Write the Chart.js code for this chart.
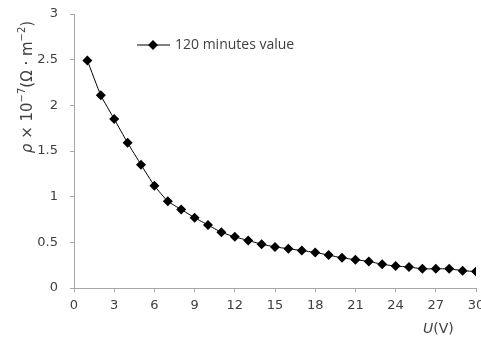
<!DOCTYPE html>
<html>
<head>
<meta charset="utf-8">
<script src="https://cdn.jsdelivr.net/npm/chart.js@4"></script>
<style>
  html, body { margin: 0; padding: 0; background: #fff; }
  #wrap { width: 481px; height: 338px; }
</style>
</head>
<body>
<div id="wrap"><canvas id="chart" width="481" height="338"></canvas></div>
<script>
// values
const voltages = [1, 2, 3, 4, 5, 6, 7, 8, 9, 10, 11, 12, 13, 14, 15,
                  16, 17, 18, 19, 20, 21, 22, 23, 24, 25, 26, 27, 28, 29, 30];
const rho120 = [2.49, 2.11, 1.85, 1.59, 1.35, 1.12, 0.95, 0.86, 0.77, 0.69,
                0.61, 0.56, 0.52, 0.48, 0.45, 0.43, 0.41, 0.39, 0.36, 0.33,
                0.31, 0.29, 0.26, 0.24, 0.23, 0.21, 0.21, 0.21, 0.19, 0.18];
const seriesLabel = '120 minutes value';

const axisColor = '#a6a6a6';
const textColor = '#404040';
const font = 'DejaVu Sans';

// draws the legend and both axis titles (mixed italic / superscript pieces)
const annotations = {
    id: 'annotations',
    afterDraw(chart) {
        const ctx = chart.ctx;
        ctx.save();

        // legend
        const ly = 45;
        ctx.strokeStyle = '#000';
        ctx.lineWidth = 1;
        ctx.beginPath();
        ctx.moveTo(137, ly);
        ctx.lineTo(170, ly);
        ctx.stroke();
        ctx.fillStyle = '#000';
        ctx.beginPath();
        ctx.moveTo(153, ly - 5);
        ctx.lineTo(158, ly);
        ctx.lineTo(153, ly + 5);
        ctx.lineTo(148, ly);
        ctx.closePath();
        ctx.fill();
        ctx.fillStyle = textColor;
        ctx.font = '14px "Open Sans"';
        ctx.textBaseline = 'middle';
        ctx.fillText(seriesLabel, 175, ly);

        // pieces drawn one after another along a baseline
        function drawPieces(pieces) {
            let x = 0;
            for (const p of pieces) {
                ctx.font = p.font;
                ctx.fillText(p.text, x, p.dy || 0);
                x += ctx.measureText(p.text).width;
            }
        }
        function widthOf(pieces) {
            let w = 0;
            for (const p of pieces) {
                ctx.font = p.font;
                w += ctx.measureText(p.text).width;
            }
            return w;
        }

        ctx.textBaseline = 'alphabetic';
        ctx.fillStyle = textColor;

        // y title
        const yTitle = [
            {text: 'ρ', font: 'italic 15px "' + font + '"'},
            {text: ' × 10', font: '15px "' + font + '"'},
            {text: '−7', font: '10px "' + font + '"', dy: -7},
            {text: '(Ω · m', font: '15px "' + font + '"'},
            {text: '−2', font: '10px "' + font + '"', dy: -7},
            {text: ')', font: '15px "' + font + '"'}
        ];
        const yw = widthOf(yTitle);
        ctx.save();
        ctx.translate(32, 87 + yw / 2);
        ctx.rotate(-Math.PI / 2);
        drawPieces(yTitle);
        ctx.restore();

        // x title
        const xTitle = [
            {text: 'U', font: 'italic 14px "' + font + '"'},
            {text: '(V)', font: '14px "' + font + '"'}
        ];
        ctx.save();
        ctx.translate(423, 333);
        drawPieces(xTitle);
        ctx.restore();

        ctx.restore();
    }
};

new Chart(document.getElementById('chart'), {
    type: 'line',
    data: {
        labels: voltages,
        datasets: [{
            label: seriesLabel,
            data: voltages.map((v, i) => ({x: v, y: rho120[i]})),
            borderColor: '#000',
            borderWidth: 1,
            backgroundColor: '#000',
            pointStyle: 'rectRot',
            pointRadius: 5,
            pointBorderWidth: 0,
            pointBackgroundColor: '#000',
            tension: 0.15
        }]
    },
    options: {
        responsive: false,
        animation: false,
        layout: { padding: { top: 14, right: 5, left: 0, bottom: 0 } },
        plugins: {
            legend: { display: false },
            tooltip: { enabled: false }
        },
        scales: {
            x: {
                type: 'linear',
                min: 0,
                max: 30,
                ticks: {
                    stepSize: 3,
                    color: textColor,
                    font: { family: font, size: 13 },
                    padding: 6,
                    maxRotation: 0
                },
                grid: { drawOnChartArea: false, drawTicks: true, tickLength: 4, color: axisColor },
                border: { color: axisColor, width: 1 },
                afterFit(scale) {
                    scale.height = 50;
                    scale.paddingLeft = 0;
                    scale.paddingRight = 0;
                }
            },
            y: {
                min: 0,
                max: 3,
                ticks: {
                    stepSize: 0.5,
                    color: textColor,
                    font: { family: font, size: 13 },
                    padding: 12,
                    callback: v => String(v)
                },
                grid: { drawOnChartArea: false, drawTicks: true, tickLength: 4, color: axisColor },
                border: { color: axisColor, width: 1 },
                afterFit(scale) {
                    scale.width = 74;
                    scale.paddingTop = 0;
                    scale.paddingBottom = 0;
                }
            }
        }
    },
    plugins: [annotations]
});
</script>
</body>
</html>
